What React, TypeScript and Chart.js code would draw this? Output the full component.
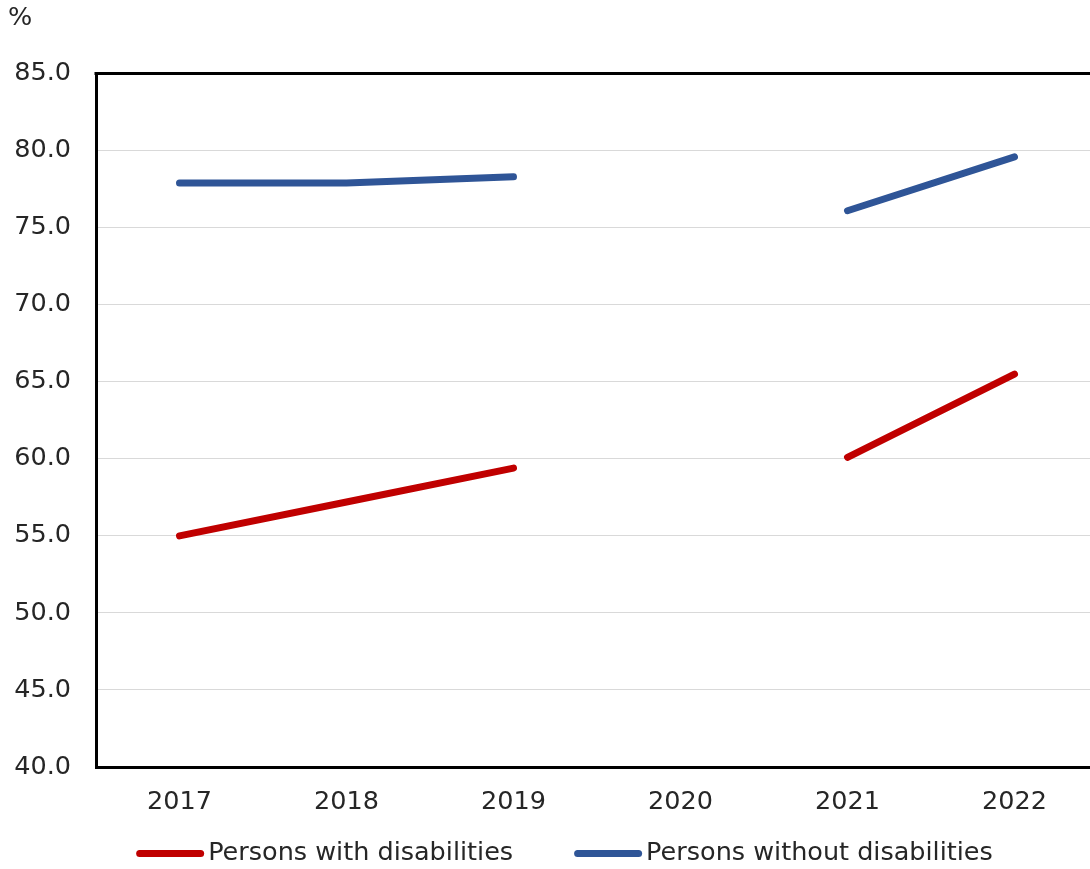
import React, { useEffect, useRef } from "react";
import { Chart, registerables } from "chart.js";

Chart.register(...registerables);

// Employment rate by disability status, %
const years = ["2017", "2018", "2019", "2020", "2021", "2022"];
const withDisabilities: (number | null)[] = [55.0, 57.2, 59.4, null, 60.1, 65.5];
const withoutDisabilities: (number | null)[] = [77.9, 77.9, 78.3, null, 76.1, 79.6];
const seriesNames = ["Persons with disabilities", "Persons without disabilities"];
const unitLabel = "%";
const yMin = 40;
const yMax = 85;
const yStep = 5;

const FONT = "'DejaVu Sans', Verdana, sans-serif";
const FONT_SIZE = 25.5;
const TEXT = "#262626";
const RED = "#C00000";
const BLUE = "#2F5597";
const LINE_WIDTH = 7;

// Draws the black line along the top of the plot area
const topFrame = {
  id: "topFrame",
  afterDraw(chart: Chart) {
    const { ctx, chartArea } = chart;
    ctx.save();
    ctx.strokeStyle = "#000000";
    ctx.lineWidth = 3;
    ctx.beginPath();
    ctx.moveTo(chartArea.left - 1.5, chartArea.top);
    ctx.lineTo(chartArea.right, chartArea.top);
    ctx.stroke();
    ctx.restore();
  },
};

// Legend row under the axis: a short rounded stroke followed by the series name
const bottomLegend = {
  id: "bottomLegend",
  afterDraw(chart: Chart) {
    const { ctx } = chart;
    const swatch = 68;
    const textGap = 4;
    const itemGap = 61;
    const y = chart.height - 15.5;
    ctx.save();
    ctx.font = `${FONT_SIZE}px ${FONT}`;
    const items = chart.data.datasets.map((ds) => ({
      text: String(ds.label ?? ""),
      color: String(ds.borderColor),
      width: ctx.measureText(String(ds.label ?? "")).width,
    }));
    const total =
      items.reduce((s, it) => s + swatch + textGap + it.width, 0) +
      itemGap * (items.length - 1);
    let x = chart.width / 2 - total / 2;
    for (const it of items) {
      ctx.strokeStyle = it.color;
      ctx.lineWidth = LINE_WIDTH;
      ctx.lineCap = "round";
      ctx.beginPath();
      ctx.moveTo(x + LINE_WIDTH / 2, y);
      ctx.lineTo(x + swatch - LINE_WIDTH / 2, y);
      ctx.stroke();
      ctx.fillStyle = TEXT;
      ctx.textAlign = "left";
      ctx.textBaseline = "middle";
      ctx.fillText(it.text, x + swatch + textGap, y);
      x += swatch + textGap + it.width + itemGap;
    }
    ctx.restore();
  },
};

export default function App() {
  const canvasRef = useRef<HTMLCanvasElement | null>(null);

  useEffect(() => {
    if (!canvasRef.current) return;
    const lineStyle = {
      borderWidth: LINE_WIDTH,
      borderCapStyle: "round" as const,
      borderJoinStyle: "round" as const,
      pointRadius: 0,
      pointHoverRadius: 0,
      spanGaps: false,
      tension: 0,
    };
    const chart = new Chart(canvasRef.current, {
      type: "line",
      data: {
        labels: years,
        datasets: [
          {
            label: seriesNames[0],
            data: withDisabilities,
            borderColor: RED,
            backgroundColor: RED,
            ...lineStyle,
          },
          {
            label: seriesNames[1],
            data: withoutDisabilities,
            borderColor: BLUE,
            backgroundColor: BLUE,
            ...lineStyle,
          },
        ],
      },
      options: {
        responsive: false,
        animation: false,
        devicePixelRatio: 1,
        layout: { padding: { left: 0, right: 23, top: 0, bottom: 47 } },
        plugins: {
          title: {
            display: true,
            text: unitLabel,
            align: "start",
            color: TEXT,
            font: { family: FONT, size: FONT_SIZE, weight: "normal" },
            padding: { top: 3, bottom: 40 },
          },
          legend: { display: false },
          tooltip: { enabled: false },
        },
        scales: {
          x: {
            offset: true,
            grid: { display: false, drawTicks: false },
            border: { display: true, color: "#000000", width: 3 },
            ticks: {
              color: TEXT,
              font: { family: FONT, size: FONT_SIZE },
              padding: 20,
              maxRotation: 0,
            },
            afterFit: (scale) => {
              scale.height = 55;
            },
          },
          y: {
            min: yMin,
            max: yMax,
            grid: { color: "#d9d9d9", lineWidth: 1, drawTicks: false },
            border: { display: true, color: "#000000", width: 3 },
            ticks: {
              stepSize: yStep,
              color: TEXT,
              font: { family: FONT, size: FONT_SIZE },
              padding: 25,
              callback: (v) => Number(v).toFixed(1),
            },
            afterFit: (scale) => {
              scale.width = 88;
            },
          },
        },
      },
      plugins: [topFrame, bottomLegend],
    });
    return () => chart.destroy();
  }, []);

  return (
    <div
      style={{
        position: "fixed",
        left: 0,
        top: 0,
        width: 1090,
        height: 869,
        overflow: "hidden",
        background: "#ffffff",
      }}
    >
      <canvas
        ref={canvasRef}
        width={1113}
        height={869}
        style={{ position: "absolute", left: 8, top: 0, display: "block" }}
      />
    </div>
  );
}
